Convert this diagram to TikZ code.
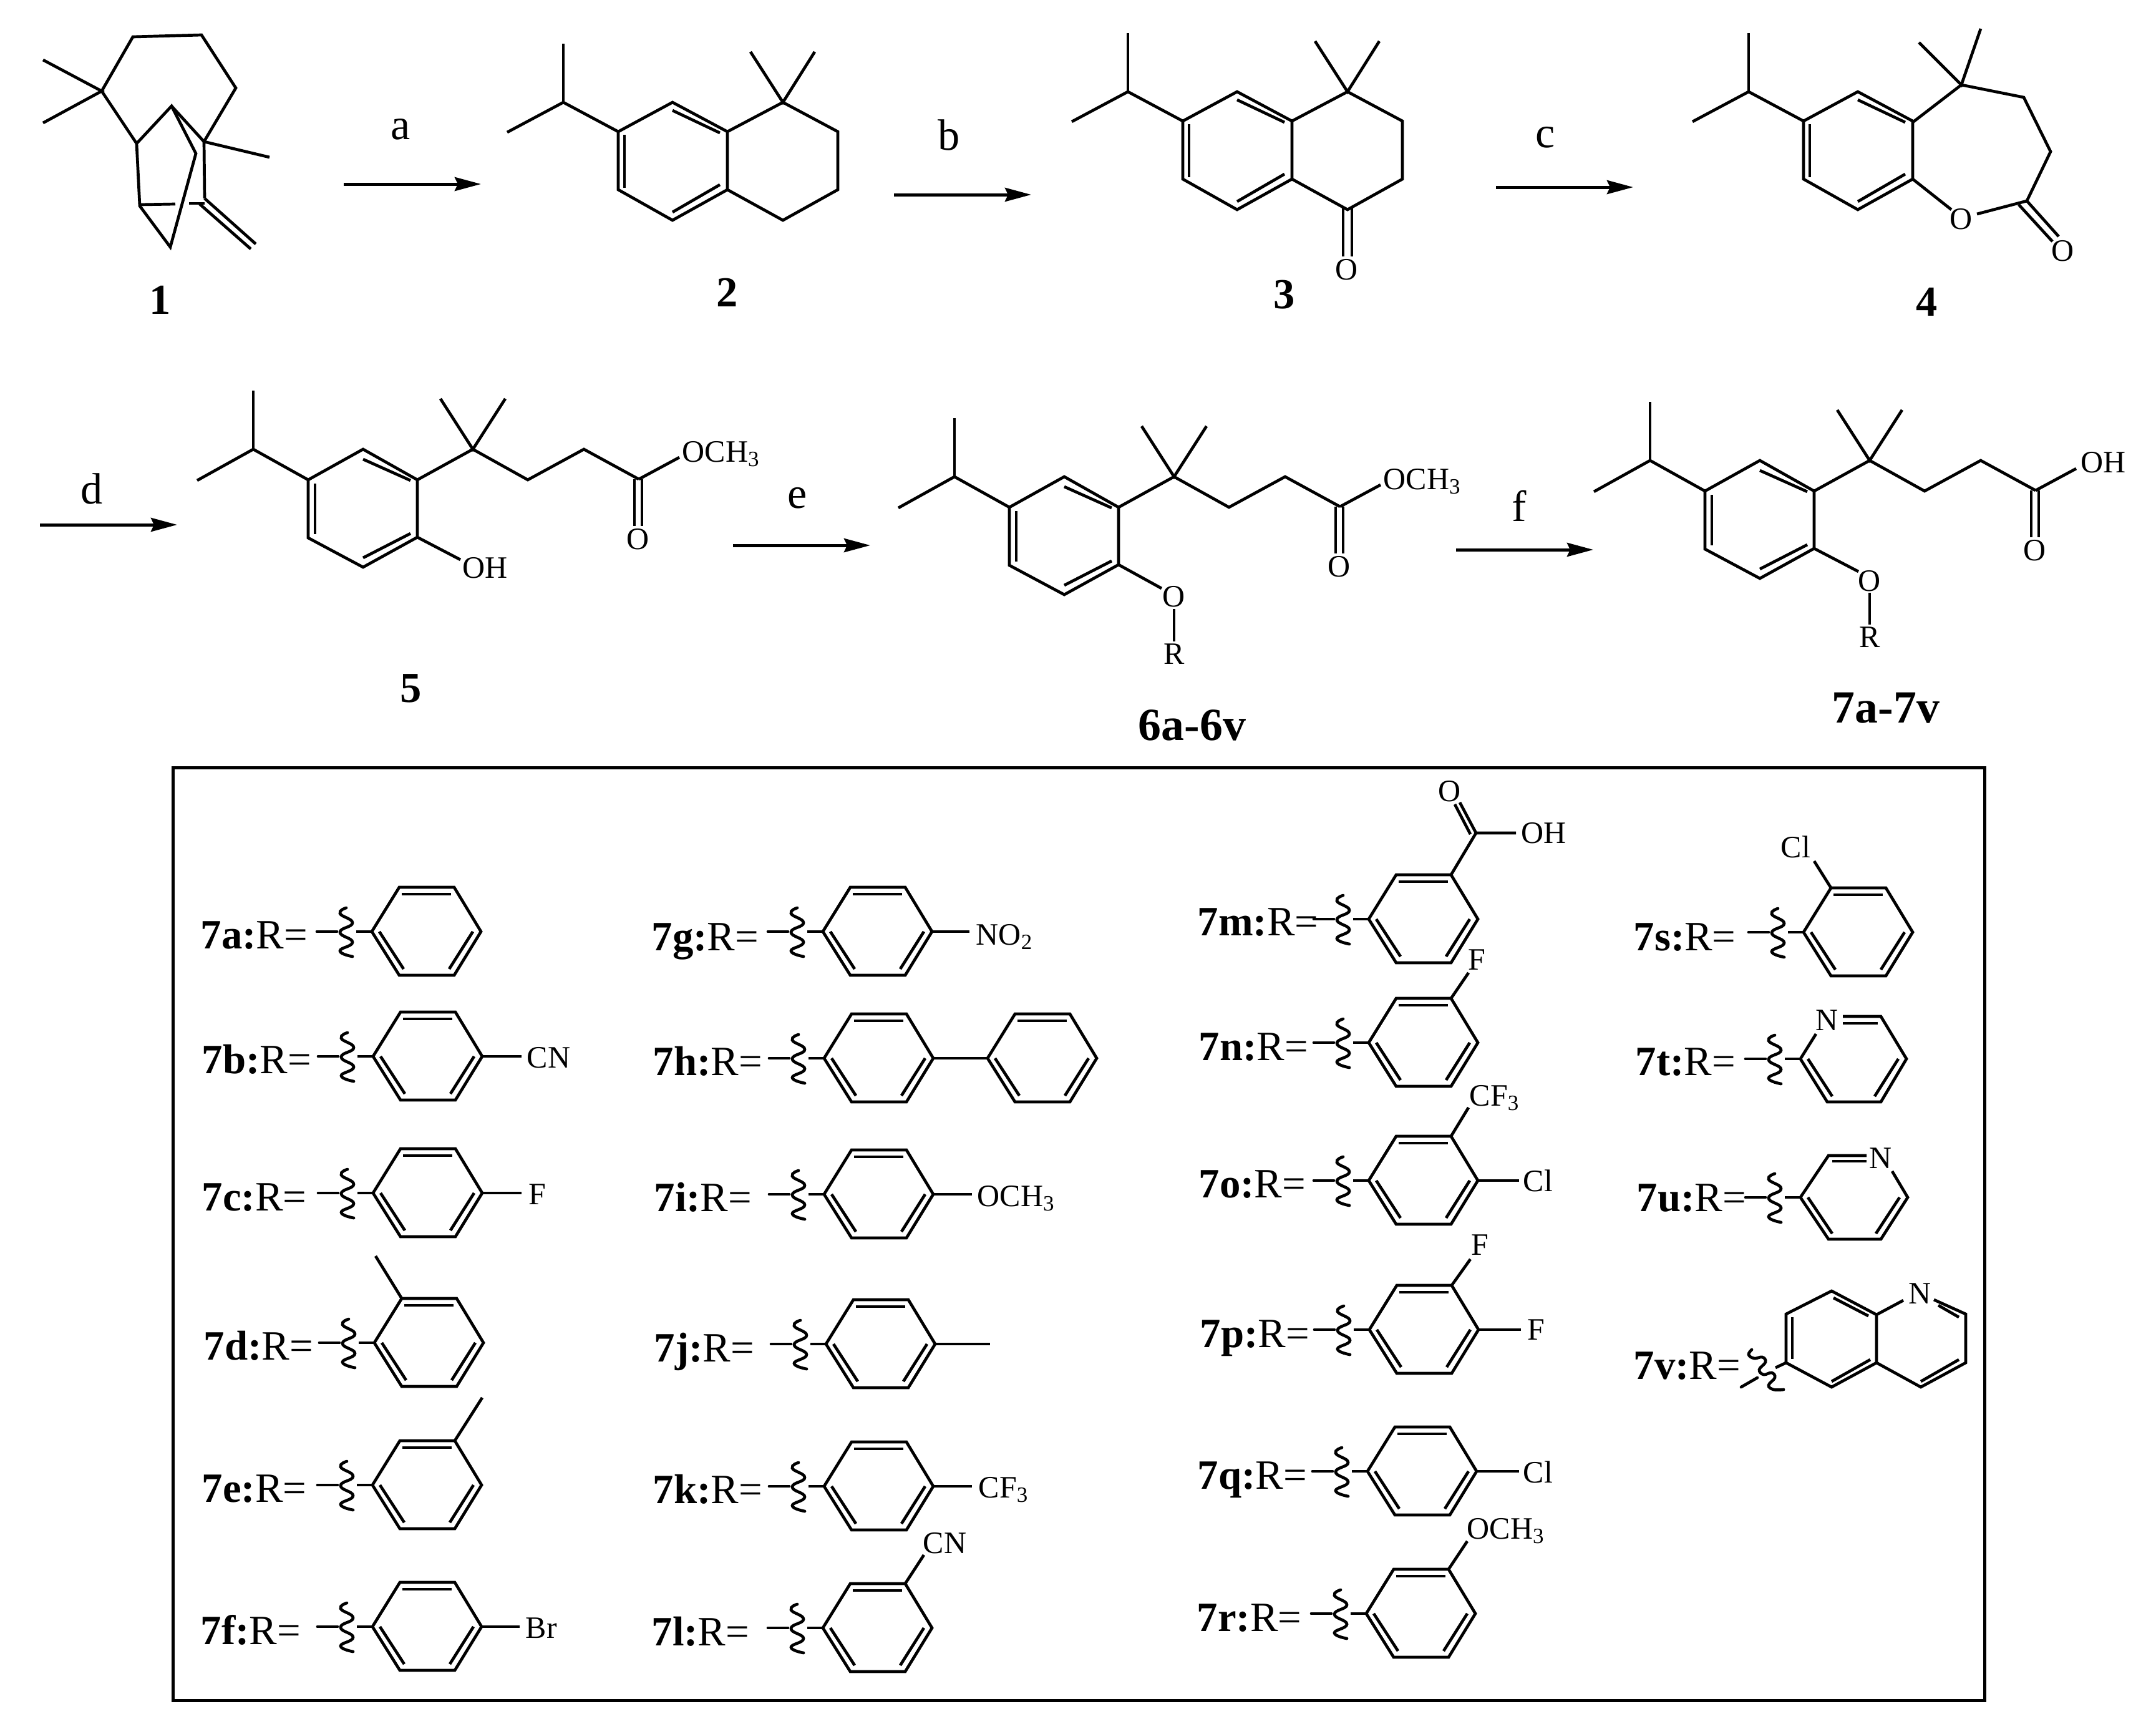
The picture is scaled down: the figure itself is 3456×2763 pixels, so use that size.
\documentclass[tikz,border=0pt]{standalone}
\usepackage{fontspec}
\setmainfont{Liberation Serif}
\usetikzlibrary{arrows.meta}

\tikzset{
    bond/.style={line width=0.47mm},
    panel/.style={line width=0.5mm},
    rxnarrow/.style={line width=0.5mm, -{Stealth[length=4.2mm, width=2.2mm, inset=0.5mm]}},
    steplabel/.style={anchor=base, inner sep=0pt, font=\fontsize{20}{20}\selectfont},
    cmpd/.style={anchor=base, inner sep=0pt, font=\fontsize{19.5}{20}\selectfont\bfseries},
    cmpdwide/.style={cmpd, font=\fontsize{21}{21}\selectfont\bfseries},
    rlabel/.style={anchor=base west, inner sep=0pt, yshift=-0.3mm, font=\fontsize{19}{20}\selectfont},
    atom/.style={anchor=base west, inner sep=0pt, font=\fontsize{14.2}{15}\selectfont},
    atomc/.style={anchor=center, inner sep=0pt, font=\fontsize{14.2}{15}\selectfont}
}

% Cut mark with its two stubs, at the ring's left vertex
\newcommand{\cutmark}{
    \draw[bond, line cap=round] (-88,0) -- (-56,0);
    \draw[bond] (-25,0) -- (0,0);
    \draw[bond, line cap=round] plot[smooth, tension=0.85] coordinates
        {(-41,-38) (-51,-29) (-31,-14) (-51,1) (-31,17) (-51,31) (-31,40)};
}

% Benzene ring, left vertex at the origin
\newcommand{\phring}{
    \coordinate (TL) at (44,-71);
    \coordinate (TR) at (132,-71);
    \coordinate (RR) at (175,0);
    \draw[bond] (0,0) -- (TL) -- (TR) -- (RR) -- (132,70) -- (44,70) -- cycle;
    \draw[bond] (48,-60) -- (127,-60);
    \draw[bond] (12,0) -- (51,60);
    \draw[bond] (162,0) -- (124,60);
}

% One R group: name, label x, label y, ring x, ring y, substituents
\newcommand{\rentry}[6]{
    \node[rlabel] (lab#1) at (#2,#3) {\textbf{7#1:}R=};
    \begin{scope}[shift={(#4,#5)}]
        \cutmark
        \phring
        #6
    \end{scope}
}

% Isopropyl benzene part of 2, 3 and 4
\newcommand{\cumene}{
    \draw[bond] (903,70) -- (903,164);
    \draw[bond] (813,212) -- (903,164) -- (991,211);
    \draw[bond] (991,211) -- (1078,164) -- (1166,211) -- (1166,304) -- (1078,353) -- (991,304) -- cycle;
    \draw[bond] (1078,177) -- (1154,213);
    \draw[bond] (1001,216) -- (1001,301);
    \draw[bond] (1078,340) -- (1154,296);
}

% Tetralin ring with gem-dimethyl of 2 and 3
\newcommand{\dimethylring}{
    \draw[bond] (1166,211) -- (1255,164) -- (1343,211) -- (1343,304) -- (1255,353) -- (1166,304);
    \draw[bond] (1203,83) -- (1255,164) -- (1306,83);
}

% Isopropyl aryl chain of 5, 6 and 7
\newcommand{\arylchain}{
    \draw[bond] (406,626) -- (406,720);
    \draw[bond] (316,770) -- (406,720) -- (494,769);
    \draw[bond] (494,769) -- (582,720) -- (669,769) -- (669,861) -- (582,909) -- (494,862) -- cycle;
    \draw[bond] (582,736) -- (658,770);
    \draw[bond] (505,775) -- (505,856);
    \draw[bond] (582,894) -- (658,855);
    \draw[bond] (706,639) -- (758,720) -- (810,639);
    \draw[bond] (669,769) -- (758,720) -- (846,769) -- (936,720) -- (1024,768);
    \draw[bond] (1017,768) -- (1017,843);
    \draw[bond] (1029,768) -- (1029,843);
    \node[atomc] (oc) at (1023,864) {O};
}

\begin{document}
\begin{tikzpicture}[x=0.01cm, y=-0.01cm]
    \useasboundingbox (0,0) rectangle (3456,2763);
    % Reaction arrows
    \foreach \lab/\xa/\xb/\yy/\lx/\ly in {a/551/771/295/642/223, b/1433/1653/312/1521/240,
        c/2398/2618/300/2477/236, d/64/284/841/147/807, e/1175/1395/874/1278/814, f/2334/2554/881/2435/835}
    {
    \coordinate (s\lab) at (\xa,\yy);
    \coordinate (e\lab) at (\xb,\yy);
    \draw[rxnarrow] (s\lab) -- (e\lab);
    \node[steplabel] (l\lab) at (\lx,\ly) {\lab};
    }
    % Compound numbers
    \foreach \cname/\cx/\cy in {1/257/503, 2/1166/491, 3/2059/494, 4/3089/506, 5/659/1125}
    {
    \node[cmpd] (c\cname) at (\cx,\cy) {\cname};
    }
    \node[cmpdwide] (c6) at (1911,1186) {6a-6v};
    \node[cmpdwide] (c7) at (3023,1158) {7a-7v};
    % Compound 1
    \draw[bond] (69,96) -- (163,146) -- (69,197);
    \draw[bond] (163,146) -- (213,59) -- (323,56) -- (378,141) -- (327,227) -- (328,318);
    \draw[bond] (163,146) -- (219,230) -- (224,330) -- (273,396) -- (314,246) -- (275,170) -- (219,230);
    \draw[bond] (275,170) -- (327,227) -- (432,252);
    \draw[bond] (224,328) -- (281,327);
    \draw[bond] (303,326) -- (328,326);
    \draw[bond] (328,318) -- (410,391);
    \draw[bond] (320,327) -- (402,399);
    % Compound 2
    \cumene
    \dimethylring
    % Compound 3
    \begin{scope}[shift={(905,-17)}]
        \cumene
        \dimethylring
    \end{scope}
    \draw[bond] (2153,334) -- (2153,411);
    \draw[bond] (2167,334) -- (2167,411);
    \node[atomc] (o3) at (2159,432) {O};
    % Compound 4
    \begin{scope}[shift={(1900,-17)}]
        \cumene
    \end{scope}
    \draw[bond] (3076,68) -- (3144,136) -- (3175,46);
    \draw[bond] (3066,196) -- (3144,136) -- (3244,156) -- (3287,243) -- (3249,322) -- (3169,343);
    \draw[bond] (3066,287) -- (3128,336);
    \draw[bond] (3249,322) -- (3300,379);
    \draw[bond] (3236,328) -- (3290,387);
    \node[atomc] (o4a) at (3144,351) {O};
    \node[atomc] (o4b) at (3307,402) {O};
    % Compound 5
    \arylchain
    \draw[bond] (1024,768) -- (1089,733);
    \node[atom] (me5) at (1093,740) {OCH\textsubscript{3}};
    \draw[bond] (669,861) -- (738,897);
    \node[atom] (oh5) at (741,926) {OH};
    % Compound 6
    \begin{scope}[shift={(1124,44)}]
        \arylchain
        \draw[bond] (1024,768) -- (1089,733);
        \node[atom] (me6) at (1093,740) {OCH\textsubscript{3}};
        \draw[bond] (669,861) -- (738,899);
        \node[atomc] (o6) at (758,912) {O};
        \draw[bond] (758,932) -- (758,984);
        \node[atom, anchor=base] (r6) at (758,1020) {R};
    \end{scope}
    % Compound 7
    \begin{scope}[shift={(2239,18)}]
        \arylchain
        \draw[bond] (1024,768) -- (1089,733);
        \node[atom] (oh7) at (1096,739) {OH};
        \draw[bond] (669,861) -- (740,898);
        \node[atomc] (o7) at (758,913) {O};
        \draw[bond] (758,932) -- (758,983);
        \node[atom, anchor=base] (r7) at (758,1019) {R};
    \end{scope}
    % Box
    \draw[panel] (277,1230) rectangle (3181,2725);
    % First column
    \rentry{a}{321}{1517}{596}{1493}{}
    \rentry{b}{323}{1717}{598}{1693}{
        \draw[bond] (RR) -- (238,0);
        \node[atom] (xb) at (246,18) {CN};}
    \rentry{c}{323}{1937}{598}{1912}{
        \draw[bond] (RR) -- (238,0);
        \node[atom] (xc) at (249,18) {F};}
    \rentry{d}{326}{2176}{600}{2152}{
        \draw[bond] (TL) -- (2,-139);}
    \rentry{e}{323}{2404}{597}{2380}{
        \draw[bond] (TR) -- (176,-140);}
    \rentry{f}{321}{2632}{597}{2607}{
        \draw[bond] (RR) -- (236,0);
        \node[atom] (xf) at (245,18) {Br};}
    % Second column
    \rentry{g}{1044}{1520}{1319}{1493}{
        \draw[bond] (RR) -- (235,0);
        \node[atom] (xg) at (245,21) {NO\textsubscript{2}};}
    \rentry{h}{1046}{1720}{1321}{1696}{
        \draw[bond] (RR) -- (262,0);
        \begin{scope}[shift={(262,0)}]
            \phring
        \end{scope}}
    \rentry{i}{1048}{1938}{1321}{1914}{
        \draw[bond] (RR) -- (237,0);
        \node[atom] (xi) at (245,19) {OCH\textsubscript{3}};}
    \rentry{j}{1048}{2179}{1324}{2154}{
        \draw[bond] (RR) -- (263,0);}
    \rentry{k}{1046}{2406}{1321}{2382}{
        \draw[bond] (RR) -- (237,0);
        \node[atom] (xk) at (247,18) {CF\textsubscript{3}};}
    \rentry{l}{1044}{2634}{1319}{2609}{
        \draw[bond] (TR) -- (162,-117);
        \node[atom] (xl) at (160,-120) {CN};}
    % Third column
    \rentry{m}{1919}{1496}{2194}{1473}{
        \draw[bond] (TR) -- (172,-138) -- (236,-138);
        \draw[bond] (172,-138) -- (146,-187);
        \draw[bond] (163,-136) -- (138,-184);
        \node[atomc] (xma) at (130,-205) {O};
        \node[atom] (xmb) at (244,-122) {OH};}
    \rentry{n}{1921}{1696}{2194}{1671}{
        \draw[bond] (TR) -- (160,-112);
        \node[atomc] (xn) at (173,-133) {F};}
    \rentry{o}{1921}{1916}{2194}{1892}{
        \draw[bond] (TR) -- (160,-117);
        \node[atom] (xoa) at (161,-120) {CF\textsubscript{3}};
        \draw[bond] (RR) -- (241,0);
        \node[atom] (xob) at (247,17) {Cl};}
    \rentry{p}{1923}{2156}{2195}{2131}{
        \draw[bond] (TR) -- (162,-113);
        \node[atomc] (xpa) at (177,-136) {F};
        \draw[bond] (RR) -- (243,0);
        \node[atom] (xpb) at (253,16) {F};}
    \rentry{q}{1919}{2383}{2192}{2358}{
        \draw[bond] (RR) -- (243,0);
        \node[atom] (xq) at (249,18) {Cl};}
    \rentry{r}{1918}{2611}{2190}{2586}{
        \draw[bond] (TR) -- (162,-116);
        \node[atom] (xr) at (161,-120) {OCH\textsubscript{3}};}
    % Fourth column
    \rentry{s}{2618}{1520}{2891}{1494}{
        \draw[bond] (TL) -- (17,-114);
        \node[atom] (xs) at (-37,-120) {Cl};}
    % 7t, ring with N
    \node[rlabel] (labt) at (2621,1720) {\textbf{7t:}R=};
    \begin{scope}[shift={(2886,1697)}]
        \cutmark
    \end{scope}
    \draw[bond] (2911,1657) -- (2886,1697) -- (2929,1766) -- (3015,1766) -- (3056,1697) -- (3015,1629) -- (2954,1629);
    \draw[bond] (2954,1640) -- (3010,1640);
    \draw[bond] (2898,1697) -- (2937,1757);
    \draw[bond] (3043,1697) -- (3005,1757);
    \node[atomc] (nt) at (2929,1635) {N};
    % 7u, ring with N
    \node[rlabel] (labu) at (2623,1938) {\textbf{7u:}R=};
    \begin{scope}[shift={(2886,1919)}]
        \cutmark
    \end{scope}
    \draw[bond] (2992,1852) -- (2931,1852) -- (2886,1919) -- (2931,1986) -- (3015,1986) -- (3058,1919) -- (3033,1877);
    \draw[bond] (2937,1861) -- (2992,1861);
    \draw[bond] (2898,1919) -- (2937,1977);
    \draw[bond] (3045,1919) -- (3007,1977);
    \node[atomc] (nu) at (3015,1856) {N};
    % 7v, quinoline
    \node[rlabel] (labv) at (2618,2207) {\textbf{7v:}R=};
    \draw[bond, line cap=round] (2791,2223) -- (2817,2208);
    \draw[bond, line cap=round] plot[smooth, tension=0.7] coordinates
        {(2808,2163) (2803,2171) (2812,2177) (2825,2175) (2830,2183) (2820,2195) (2827,2203)
         (2840,2200) (2845,2208) (2835,2220) (2843,2227) (2859,2227)};
    \draw[bond] (2846,2192) -- (2863,2184);
    \draw[bond] (2863,2184) -- (2863,2106) -- (2936,2069) -- (3008,2107) -- (3008,2184) -- (2936,2223) -- cycle;
    \draw[bond] (3008,2107) -- (3051,2084);
    \draw[bond] (3100,2083) -- (3151,2106) -- (3151,2184) -- (3079,2223) -- (3008,2184);
    \draw[bond] (2939,2080) -- (2995,2109);
    \draw[bond] (2873,2111) -- (2873,2178);
    \draw[bond] (2936,2214) -- (2998,2179);
    \draw[bond] (3079,2214) -- (3140,2179);
    \draw[bond] (3107,2092) -- (3140,2111);
    \node[atomc] (nv) at (3078,2073) {N};
\end{tikzpicture}
\end{document}
